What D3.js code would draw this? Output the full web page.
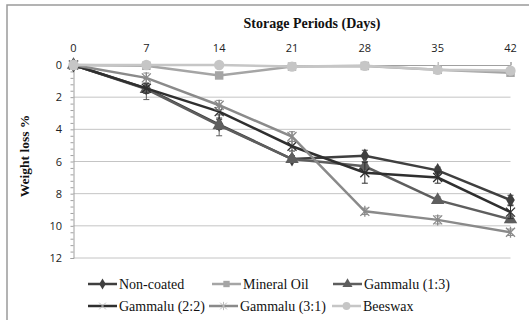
<!DOCTYPE html>
<html>
<head>
<meta charset="utf-8">
<script src="https://cdn.jsdelivr.net/npm/d3@7/dist/d3.min.js"></script>
<style>
  body { margin: 0; background: #fff; }
  svg { display: block; }
</style>
</head>
<body>
<div id="chart"></div>
<script>
const width = 529;
const height = 320;
const SERIF = "'Liberation Serif', 'Times New Roman', serif";
const SANS = "'Open Sans', 'Liberation Sans', sans-serif";

// storage days and weight loss (%) per coating
const days = [0, 7, 14, 21, 28, 35, 42];
const seriesNames = ["Non-coated", "Mineral Oil", "Gammalu (1:3)", "Gammalu (2:2)", "Gammalu (3:1)", "Beeswax"];
const nonCoated = [0, 1.45, 3.7, 5.85, 5.65, 6.55, 8.4];
const mineralOil = [0, 0.05, 0.65, 0.1, 0.06, 0.3, 0.48];
const gammalu13 = [0, 1.5, 3.75, 5.85, 6.3, 8.4, 9.6];
const gammalu22 = [0, 1.45, 2.9, 5.05, 6.7, 7.0, 9.15];
const gammalu31 = [0, 0.8, 2.5, 4.45, 9.1, 9.63, 10.4];
const beeswax = [0, 0, 0, 0.1, 0.05, 0.3, 0.35];
// error bar half-heights
const errNonCoated = [0, 0.3, 0.3, 0.2, 0.35, 0.2, 0.3];
const errMineralOil = [0, 0.1, 0.1, 0.1, 0.1, 0.1, 0.1];
const errGammalu13 = [0, 0.65, 0.65, 0.2, 0.3, 0.2, 0.2];
const errGammalu22 = [0, 0.3, 0.4, 0.3, 0.65, 0.35, 0.4];
const errGammalu31 = [0, 0.3, 0.3, 0.3, 0.2, 0.25, 0.2];
const errBeeswax = [0, 0.1, 0.1, 0.1, 0.1, 0.1, 0.1];
const yTicks = [0, 2, 4, 6, 8, 10, 12];

const colors = ["#3f3f3f", "#a5a5a5", "#5e5e5e", "#2f2f2f", "#8a8a8a", "#c6c6c6"];
const symbols = ["diamond", "square", "triangle", "x", "star", "circle"];

const series = seriesNames.map((name, i) => ({
  name: name,
  values: [nonCoated, mineralOil, gammalu13, gammalu22, gammalu31, beeswax][i],
  errs: [errNonCoated, errMineralOil, errGammalu13, errGammalu22, errGammalu31, errBeeswax][i],
  color: colors[i],
  symbol: symbols[i]
}));

const svg = d3.select("#chart").append("svg")
  .attr("width", width)
  .attr("height", height);

// outer frame
svg.append("rect")
  .attr("x", 7).attr("y", 5)
  .attr("width", 530).attr("height", 330)
  .attr("fill", "#fff")
  .attr("stroke", "#9a9a9a")
  .attr("stroke-width", 1.5);

const x = d3.scaleLinear().domain([0, 42]).range([73.5, 510.5]);
const y = d3.scaleLinear().domain([0, 12]).range([65, 258]);

// gridlines
svg.append("g")
  .selectAll("line")
  .data(yTicks.slice(1))
  .enter().append("line")
  .attr("x1", x(0)).attr("x2", x(42))
  .attr("y1", d => y(d)).attr("y2", d => y(d))
  .attr("stroke", "#c4c4c4")
  .attr("stroke-width", 1);

// y axis with minor ticks
const yAxis = svg.append("g")
  .attr("transform", `translate(${x(0)},0)`)
  .call(d3.axisLeft(y).tickValues(d3.range(0, 12.01, 0.4)).tickSize(3).tickFormat(""));
yAxis.select(".domain").attr("stroke", "#a0a0a0");
yAxis.selectAll(".tick line").attr("stroke", "#a0a0a0");

svg.append("g")
  .selectAll("text")
  .data(yTicks)
  .enter().append("text")
  .style("font-family", SANS)
  .attr("x", 62)
  .attr("y", d => y(d) + 4)
  .attr("text-anchor", "end")
  .attr("font-size", 11)
  .attr("fill", "#222")
  .text(d => d);

// top x axis
const xAxis = svg.append("g")
  .attr("transform", `translate(0,${y(0)})`)
  .call(d3.axisTop(x).tickValues(days).tickSize(3).tickFormat(""));
xAxis.select(".domain").attr("stroke", "#a0a0a0");
xAxis.selectAll(".tick line").attr("stroke", "#a0a0a0");

svg.append("g")
  .selectAll("text")
  .data(days)
  .enter().append("text")
  .style("font-family", SANS)
  .attr("x", d => x(d))
  .attr("y", 52)
  .attr("text-anchor", "middle")
  .attr("font-size", 11)
  .attr("fill", "#222")
  .text(d => d);

// titles
svg.append("text")
  .style("font-family", SERIF)
  .attr("x", 312).attr("y", 28)
  .attr("text-anchor", "middle")
  .attr("font-weight", "bold")
  .attr("font-size", 14)
  .attr("fill", "#111")
  .text("Storage Periods (Days)");

svg.append("text")
  .style("font-family", SERIF)
  .attr("transform", "translate(29,156) rotate(-90)")
  .attr("text-anchor", "middle")
  .attr("font-weight", "bold")
  .attr("font-size", 13.5)
  .attr("fill", "#111")
  .text("Weight loss %");

function markerPath(type) {
  switch (type) {
    case "diamond": return d3.symbol(d3.symbolDiamond, 64)();
    case "square": return d3.symbol(d3.symbolSquare, 72)();
    case "triangle": return d3.symbol(d3.symbolTriangle, 78)();
    case "circle": return d3.symbol(d3.symbolCircle, 84)();
    case "x": return "M-4.5,-4.5L4.5,4.5M-4.5,4.5L4.5,-4.5";
    case "star": return "M-4.5,-4.5L4.5,4.5M-4.5,4.5L4.5,-4.5M0,-5.5L0,5.5";
  }
}

const line = d3.line()
  .x((d, i) => x(days[i]))
  .y(d => y(d));

series.forEach(s => {
  const g = svg.append("g");
  // error bars
  s.values.forEach((v, i) => {
    const e = s.errs[i];
    if (!e) return;
    const cx = x(days[i]);
    g.append("path")
      .attr("d", `M${cx},${y(v - e)}L${cx},${y(v + e)}M${cx - 3},${y(v - e)}L${cx + 3},${y(v - e)}M${cx - 3},${y(v + e)}L${cx + 3},${y(v + e)}`)
      .attr("stroke", s.color)
      .attr("stroke-width", 1)
      .attr("fill", "none");
  });
  g.append("path")
    .datum(s.values)
    .attr("d", line)
    .attr("fill", "none")
    .attr("stroke", s.color)
    .attr("stroke-width", 2.5);
  g.selectAll(".m")
    .data(s.values)
    .enter().append("path")
    .attr("transform", (d, i) => `translate(${x(days[i])},${y(d)})`)
    .attr("d", markerPath(s.symbol))
    .attr("fill", s.symbol === "x" || s.symbol === "star" ? "none" : s.color)
    .attr("stroke", s.color)
    .attr("stroke-width", s.symbol === "x" || s.symbol === "star" ? 1.3 : 0);
});

// legend
const legendPos = [[88, 284], [212, 284], [333, 284], [88, 306], [209, 306], [332, 306]];
series.forEach((s, i) => {
  const [lx, ly] = legendPos[i];
  const g = svg.append("g").attr("transform", `translate(${lx},${ly})`);
  g.append("line")
    .attr("x1", 0).attr("x2", 29)
    .attr("stroke", s.color).attr("stroke-width", 2.5);
  g.append("path")
    .attr("transform", "translate(14.5,0) scale(0.75)")
    .attr("d", markerPath(s.symbol))
    .attr("fill", s.symbol === "x" || s.symbol === "star" ? "none" : s.color)
    .attr("stroke", s.symbol === "x" || s.symbol === "star" ? "#bbb" : s.color)
    .attr("stroke-width", s.symbol === "x" || s.symbol === "star" ? 1.3 : 0);
  g.append("text")
    .style("font-family", SERIF)
    .attr("x", 31).attr("y", 5)
    .attr("font-size", 14)
    .attr("fill", "#111")
    .text(s.name);
});
</script>
</body>
</html>
